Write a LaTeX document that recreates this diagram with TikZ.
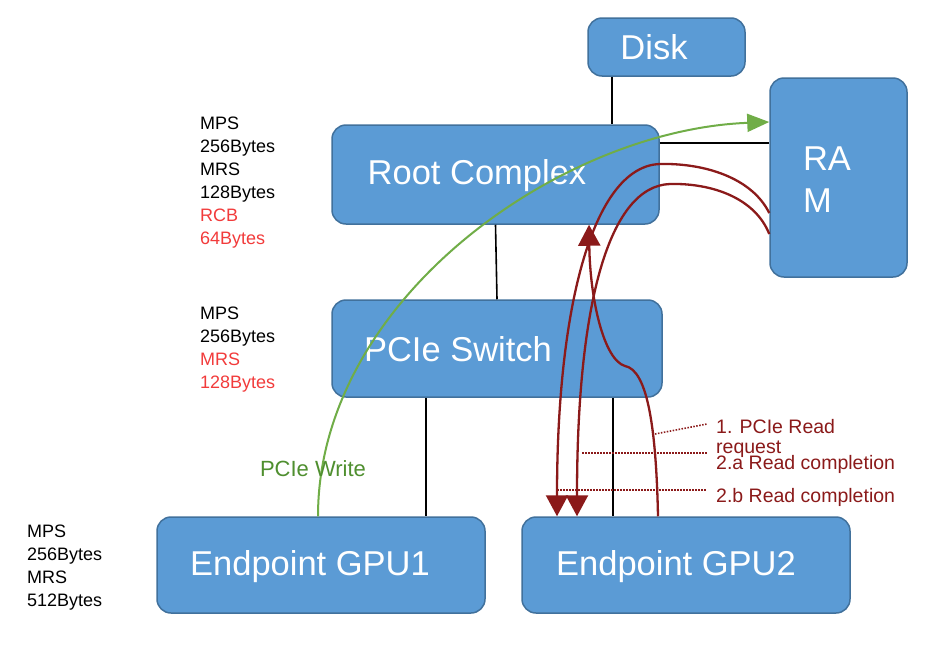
\documentclass[tikz,border=0pt]{standalone}
\usepackage{fontspec}
\setmainfont{Liberation Sans}
\usetikzlibrary{arrows.meta}
\definecolor{boxfill}{HTML}{5B9BD5}
\definecolor{boxline}{HTML}{41719C}
\definecolor{dred}{HTML}{8B1A1A}
\definecolor{lred}{HTML}{F23B3B}
\definecolor{gline}{HTML}{70AD47}
\definecolor{gtext}{HTML}{4F8F2F}
\begin{document}
\begin{tikzpicture}[x=1pt,y=-1pt,
 box/.style={draw=boxline, line width=1.5pt, fill=boxfill, rounded corners=14pt, inner sep=0pt},
 boxtext/.style={text=white, font=\fontsize{34.5}{42}\selectfont, inner sep=0pt},
 note/.style={font=\fontsize{18}{23}\selectfont, align=left, anchor=north west, inner sep=0pt},
 link/.style={line width=1.6pt, black},
 flow/.style={dred, line width=2.3pt, -{Triangle[length=21pt,width=22pt]}},
 dots/.style={dred, line width=1.6pt, dash pattern=on 1.5pt off 1.5pt},
 rlabel/.style={text=dred, font=\fontsize{19.5}{20}\selectfont, align=left, anchor=north west, inner sep=0pt},
]
\fill[white] (0,0) rectangle (945,651);
\useasboundingbox (0,0) rectangle (945,651);

% boxes
\node[box, minimum width=157pt, minimum height=58pt] (disk) at (666.5,47) {};
\node[box, minimum width=137pt, minimum height=199pt] (ram) at (838.5,177.5) {};
\node[box, minimum width=327pt, minimum height=99pt] (rc) at (495.5,174.5) {};
\node[box, minimum width=330pt, minimum height=97pt] (sw) at (497,348.5) {};
\node[box, minimum width=328pt, minimum height=96pt] (gpu1) at (321,565) {};
\node[box, minimum width=328pt, minimum height=96pt] (gpu2) at (686,565) {};

% box texts
\node[boxtext] (tdisk) at (654,47) {Disk};
\node[boxtext, align=left] (tram) at (827,180) {RA\\M};
\node[boxtext] (trc) at (477,176) {Root Complex};
\node[boxtext] (tsw) at (458,349) {PCIe Switch};
\node[boxtext] (tg1) at (310,567) {Endpoint GPU1};
\node[boxtext] (tg2) at (676,567) {Endpoint GPU2};

% links
\draw[link] (disk.south -| 612,0) -- (rc.north -| 612,0);
\draw[link] (rc.east |- 0,143) -- (ram.west |- 0,143);
\draw[link] (rc.south) -- (sw.north);
\draw[link] (sw.south -| 426,0) -- (gpu1.north -| 426,0);
\draw[link] (sw.south -| 613,0) -- (gpu2.north -| 613,0);

% notes
\node[note] (n1) at (200,117) {MPS\\256Bytes\\MRS\\128Bytes\\\textcolor{lred}{RCB}\\\textcolor{lred}{64Bytes}};
\node[note] (n2) at (200,307) {MPS\\256Bytes\\\textcolor{lred}{MRS}\\\textcolor{lred}{128Bytes}};
\node[note] (n3) at (27,525) {MPS\\256Bytes\\MRS\\512Bytes};

% green write
\draw[gline, line width=2pt, -{Triangle[length=22pt,width=18pt]}] (gpu1.north -| 318,0) .. controls (318,300) and (560,130) .. (ram.west |- 0,122);
\node[text=gtext, font=\fontsize{22}{24}\selectfont, inner sep=0pt] (wlabel) at (313,469) {PCIe Write};

% read request
\draw[flow] (gpu2.north -| 658,0) .. controls (656,420) and (646,370) .. (625,366) .. controls (604,360) and (590,300) .. (rc.south -| 589,0);
% completions
\draw[flow] (ram.west |- 0,213) .. controls (752,178) and (705,163) .. (660,164) .. controls (595,166) and (557,300) .. (gpu2.north -| 557,0);
\draw[flow] (ram.west |- 0,234) .. controls (755,198) and (712,183) .. (670,184) .. controls (610,186) and (577,300) .. (gpu2.north -| 577,0);

% labels
\node[rlabel] (l1) at (716,419) {1. PCIe Read\\request};
\node[rlabel] (l2a) at (716,455) {2.a Read completion};
\node[rlabel] (l2b) at (716,488) {2.b Read completion};

\coordinate (d1s) at (655,434);
\coordinate (d1e) at (707,424);
\coordinate (d2s) at (582,453);
\coordinate (d2e) at (707,453);
\coordinate (d3s) at (557,490);
\coordinate (d3e) at (707,490);
\draw[dots] (d1s) -- (d1e);
\draw[dots] (d2s) -- (d2e);
\draw[dots] (d3s) -- (d3e);
\end{tikzpicture}
\end{document}
